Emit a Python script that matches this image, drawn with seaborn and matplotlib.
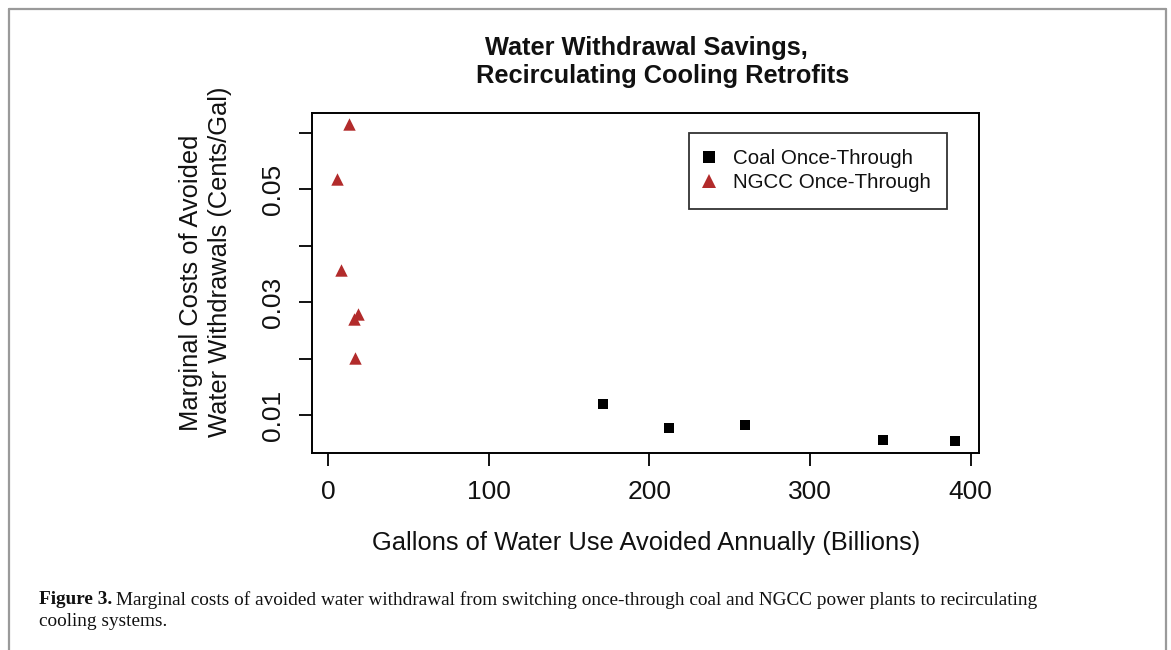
import matplotlib
matplotlib.use("Agg")
import matplotlib.pyplot as plt
import seaborn as sns
import pandas as pd
from matplotlib.lines import Line2D

# Data
coal_x = [171.0, 212.0, 259.3, 345.5, 390.4]
coal_y = [0.0120, 0.0077, 0.0082, 0.0056, 0.0054]
ngcc_x = [13.1, 5.4, 7.9, 18.7, 16.0, 16.8]
ngcc_y = [0.0615, 0.0518, 0.0357, 0.0278, 0.0270, 0.0201]
series_names = ["Coal Once-Through", "NGCC Once-Through"]
x_ticks = [0, 100, 200, 300, 400]
y_ticks = [0.01, 0.02, 0.03, 0.04, 0.05, 0.06]
y_tick_labels = ["0.01", "", "0.03", "", "0.05", ""]

df = pd.DataFrame({
    "x": coal_x + ngcc_x,
    "y": coal_y + ngcc_y,
    "series": [series_names[0]] * len(coal_x) + [series_names[1]] * len(ngcc_x),
})

sns.set_theme(style="white")
plt.rcParams['font.family'] = ['Liberation Sans', 'DejaVu Sans']

W, H = 1171, 650
fig = plt.figure(figsize=(W / 100, H / 100), dpi=100)
fig.patch.set_facecolor("white")

ax = fig.add_axes([311.7 / W, 1 - 452.7 / H, (979 - 311.7) / W, (452.7 - 113.3) / H])
colors = {series_names[0]: "black", series_names[1]: "#B22B2B"}
markers = {series_names[0]: "s", series_names[1]: "^"}
sizes = {series_names[0]: 48, series_names[1]: 80}
for name in series_names:
    sub = df[df["series"] == name]
    sns.scatterplot(data=sub, x="x", y="y", ax=ax, color=colors[name],
                    marker=markers[name], s=sizes[name], linewidth=0, legend=False)

ax.set_xlim(-10.1, 405.1)
ax.set_ylim(0.00333, 0.0634)
ax.set_xticks(x_ticks)
ax.set_xticklabels([str(t) for t in x_ticks])
ax.set_yticks(y_ticks)
ax.set_yticklabels(y_tick_labels, rotation=90, va="center")
ax.tick_params(axis="both", direction="out", length=9.5, width=1.3, color="black",
               labelsize=19, labelcolor="#111111", bottom=True, left=True)
ax.tick_params(axis="x", pad=10)
ax.tick_params(axis="y", pad=10)
for sp in ax.spines.values():
    sp.set_color("black")
    sp.set_linewidth(1.4)
ax.set_xlabel("")
ax.set_ylabel("")

# Title
fig.text(646.3 / W, 1 - 55 / H, "Water Withdrawal Savings,", ha="center", va="baseline",
         fontsize=18.3, fontweight="bold", color="#111111")
fig.text(662.4 / W, 1 - 83 / H, "Recirculating Cooling Retrofits", ha="center", va="baseline",
         fontsize=18.3, fontweight="bold", color="#111111")

# Axis labels
fig.text(646 / W, 1 - 543 / H, "Gallons of Water Use Avoided Annually (Billions)",
         ha="center", va="center", fontsize=18.4, color="#111111")
fig.text(191 / W, 1 - 283 / H, "Marginal Costs of Avoided", rotation=90,
         ha="center", va="center", fontsize=18.4, color="#111111")
fig.text(220 / W, 1 - 262 / H, "Water Withdrawals (Cents/Gal)", rotation=90,
         ha="center", va="center", fontsize=18.4, color="#111111")

# Legend
handles = [Line2D([], [], linestyle="none", marker=markers[n], color=colors[n],
                  markersize=8 if n == series_names[0] else 9.5, markeredgewidth=0)
           for n in series_names]
leg = ax.legend(handles, series_names, loc="upper left",
                bbox_to_anchor=((689.3 - 311.7) / (979 - 311.7), 1 - (132.7 - 113.3) / (452.7 - 113.3)),
                frameon=True, fancybox=False, fontsize=14.8, handlelength=0.35,
                handletextpad=1.0, borderpad=0.78, labelspacing=0.28, borderaxespad=0)
leg.get_frame().set_edgecolor("black")
leg.get_frame().set_linewidth(1.3)
for t in leg.get_texts():
    t.set_color("#111111")

# Outer page frame
frame_c = "#9a9a9a"
fig.add_artist(Line2D([9 / W, 9 / W], [0, 1 - 9 / H], transform=fig.transFigure, color=frame_c, lw=1.6))
fig.add_artist(Line2D([9 / W, 1166 / W], [1 - 9 / H, 1 - 9 / H], transform=fig.transFigure, color=frame_c, lw=1.6))
fig.add_artist(Line2D([1166 / W, 1166 / W], [0, 1 - 9 / H], transform=fig.transFigure, color=frame_c, lw=1.6))

# Caption
serif = ['Liberation Serif', 'DejaVu Serif']
t1 = fig.text(39 / W, 1 - 600 / H, "Figure 3.", ha="left", va="center", fontsize=13.9,
              fontweight="bold", family=serif, color="#111111")
fig.canvas.draw()
bb = t1.get_window_extent()
fig.text((bb.x1 + 4) / W, 1 - 600 / H,
         "Marginal costs of avoided water withdrawal from switching once-through coal and NGCC power plants to recirculating",
         ha="left", va="center", fontsize=13.9, family=serif, color="#111111")
fig.text(39 / W, 1 - 622 / H, "cooling systems.", ha="left", va="center", fontsize=13.9,
         family=serif, color="#111111")

fig.savefig("out.png", dpi=100, facecolor="white")
